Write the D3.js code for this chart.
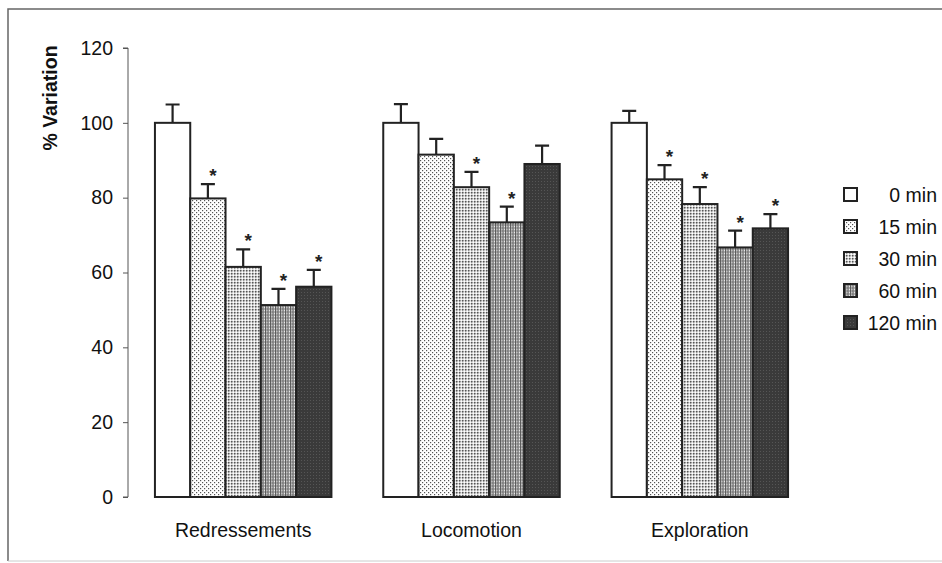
<!DOCTYPE html>
<html><head><meta charset="utf-8">
<script src="https://cdn.jsdelivr.net/npm/d3@7"></script>
<style>body{margin:0;background:#fff}svg{display:block}text{font-family:"Liberation Sans",Arial,sans-serif}</style>
</head><body><svg id="c" width="942" height="563"></svg>
<script>
const categories = ["Redressements", "Locomotion", "Exploration"];
const series = ["0 min", "15 min", "30 min", "60 min", "120 min"];
const means = [
  [100, 79.8, 61.5, 51.3, 56.2],
  [100, 91.5, 82.8, 73.4, 89.0],
  [100, 84.9, 78.3, 66.7, 71.8]
];
const errors = [
  [4.9, 3.8, 4.7, 4.3, 4.5],
  [5.0, 4.2, 4.1, 4.2, 4.9],
  [3.2, 3.8, 4.5, 4.5, 3.8]
];
const significant = [
  [false, true, true, true, true],
  [false, false, true, true, false],
  [false, true, true, true, true]
];
const yTicks = [0, 20, 40, 60, 80, 100, 120];
const yLabel = "% Variation";

const svg = d3.select("#c");
const defs = svg.append("defs");
function pat(id, w, h, bg, draw) {
  const p = defs.append("pattern").attr("id", id).attr("patternUnits", "userSpaceOnUse")
    .attr("width", w).attr("height", h);
  p.append("rect").attr("width", w).attr("height", h).attr("fill", bg);
  draw(p);
}
pat("p0", 4, 4, "#fff", p => {});
pat("p15", 4, 4, "#fff", p => {
  p.append("rect").attr("x", 0).attr("y", 0).attr("width", 1.2).attr("height", 1.2).attr("fill", "#555");
  p.append("rect").attr("x", 2).attr("y", 2).attr("width", 1.2).attr("height", 1.2).attr("fill", "#555");
});
pat("p30", 3, 3, "#d8d8d8", p => {
  p.append("rect").attr("x", 0).attr("y", 0).attr("width", 1.5).attr("height", 1.5).attr("fill", "#555");
  p.append("rect").attr("x", 1.5).attr("y", 1.5).attr("width", 1.5).attr("height", 1.5).attr("fill", "#fff");
});
pat("p60", 2.5, 3, "#b0b0b0", p => {
  p.append("rect").attr("x", 0).attr("y", 0).attr("width", 1).attr("height", 3).attr("fill", "#555");
  p.append("rect").attr("x", 1.5).attr("y", 1).attr("width", 1).attr("height", 1).attr("fill", "#eee");
});
pat("p120", 3, 3, "#3a3a3a", p => {
  p.append("rect").attr("x", 1).attr("y", 1).attr("width", 1).attr("height", 1).attr("fill", "#555");
});
const fills = ["url(#p0)", "url(#p15)", "url(#p30)", "url(#p60)", "url(#p120)"];

// frame
svg.append("path").attr("d", "M8,561 L8,9 L942,9").attr("fill", "none").attr("stroke", "#666").attr("stroke-width", 1.5);
svg.append("line").attr("x1", 8).attr("x2", 942).attr("y1", 561).attr("y2", 561).attr("stroke", "#ccc").attr("stroke-width", 1);

const y = d3.scaleLinear().domain([0, 120]).range([497, 48]);
const x0 = d3.scaleBand().domain(categories).range([128, 815]).paddingInner(0.227).paddingOuter(0.118);
const x1 = d3.scaleBand().domain(series).range([0, x0.bandwidth()]);

const FS = 19.5;
// y axis
const yAxis = d3.axisLeft(y).tickValues(yTicks).tickSize(5).tickPadding(10);
const ga = svg.append("g").attr("transform", "translate(128,0)").call(yAxis);
ga.select(".domain").attr("stroke", "#555").attr("stroke-width", 1).attr("d", `M-5,${y(120)}H0V${y(0)}H-5`);
ga.selectAll(".tick line").attr("stroke", "#555");
ga.selectAll(".tick text").attr("font-size", FS).attr("fill", "#111").attr("font-family", '"Liberation Sans",Arial,sans-serif');

svg.append("text").attr("transform", `translate(57,98) rotate(-90)`).attr("text-anchor", "middle")
  .attr("font-size", 19.5).attr("font-weight", "bold").attr("fill", "#111").text(yLabel);

const rows = [];
categories.forEach((c, i) => series.forEach((s, j) => rows.push({c, s, j, v: means[i][j], e: errors[i][j], sig: significant[i][j]})));
const g = svg.append("g");
g.selectAll(".err").data(rows).enter().append("path")
  .attr("d", d => {
    const cx = x0(d.c) + x1(d.s) + x1.bandwidth() / 2;
    return `M${cx},${y(d.v)}V${y(d.v + d.e)}M${cx - 7},${y(d.v + d.e)}H${cx + 7}`;
  }).attr("stroke", "#222").attr("stroke-width", 2.2).attr("fill", "none");
g.selectAll(".bar").data(rows).enter().append("rect")
  .attr("x", d => x0(d.c) + x1(d.s)).attr("width", x1.bandwidth())
  .attr("y", d => y(d.v)).attr("height", d => y(0) - y(d.v))
  .attr("fill", d => fills[d.j]).attr("stroke", "#222").attr("stroke-width", 2);
g.selectAll(".star").data(rows.filter(d => d.sig)).enter().append("text")
  .attr("x", d => x0(d.c) + x1(d.s) + x1.bandwidth() / 2 + 5)
  .attr("y", d => y(d.v + d.e) - 2)
  .attr("text-anchor", "middle").attr("font-size", 19).attr("font-weight", "bold").attr("fill", "#222").text("*");

svg.selectAll(".cat").data(categories).enter().append("text")
  .attr("x", d => x0(d) + x0.bandwidth() / 2).attr("y", 537)
  .attr("text-anchor", "middle").attr("font-size", FS).attr("fill", "#111").text(d => d);

const lg = svg.append("g");
series.forEach((s, j) => {
  const yy = 195 + j * 32;
  lg.append("rect").attr("x", 844).attr("y", yy - 7).attr("width", 13).attr("height", 13)
    .attr("fill", fills[j]).attr("stroke", "#222").attr("stroke-width", 2);
  lg.append("text").attr("x", 937).attr("y", yy + 7).attr("text-anchor", "end")
    .attr("font-size", FS).attr("fill", "#111").text(s);
});
</script></body></html>
